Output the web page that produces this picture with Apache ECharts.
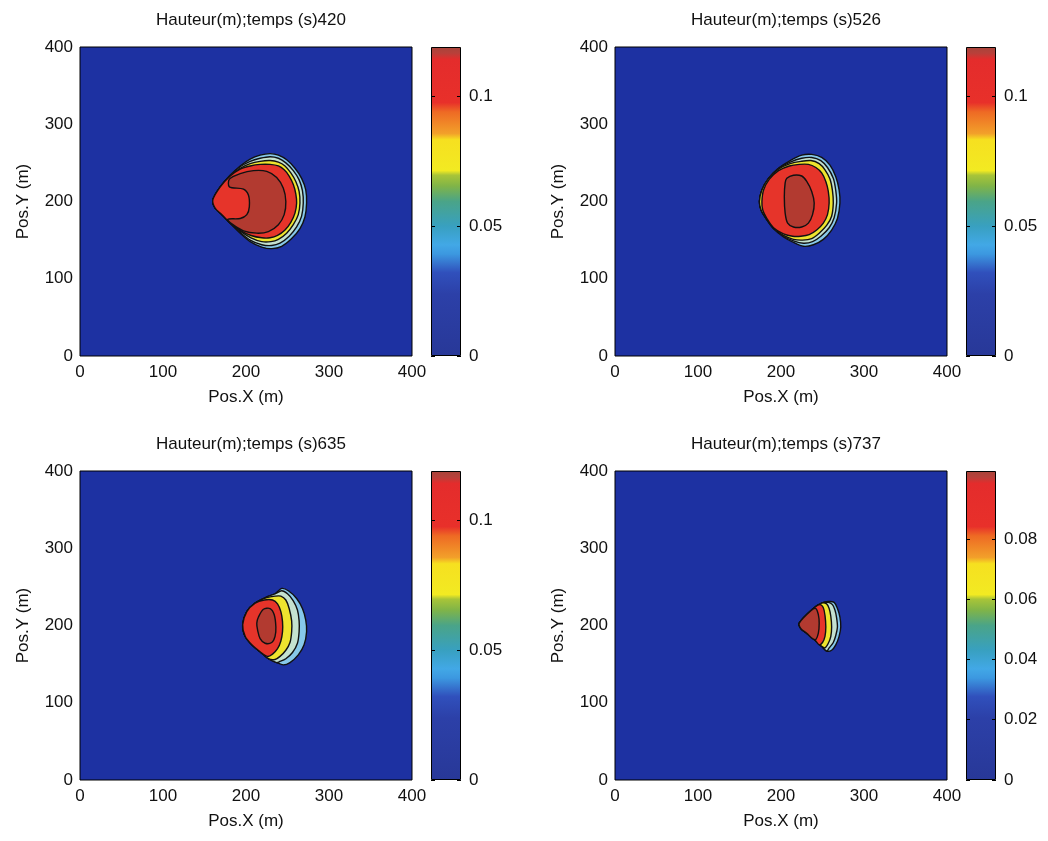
<!DOCTYPE html>
<html>
<head>
<meta charset="utf-8">
<script src="https://cdn.jsdelivr.net/npm/echarts@6/dist/echarts.min.js"></script>
<style>
html,body{margin:0;padding:0;background:#fff;}
#chart{width:1048px;height:841px;}
</style>
</head>
<body>
<div id="chart"></div>
<script>
// ---------- data ----------
const times = [420, 526, 635, 737];
const axisTicks = [0, 100, 200, 300, 400];
const cbMax = [0.119, 0.119, 0.119, 0.1025];
const cbTicksA = [0, 0.05, 0.1];
const cbTicksB = [0, 0.02, 0.04, 0.06, 0.08];
// contour level fill colours (outer -> inner)
const levelColors = ['#86c8ea', '#c4e2d0', '#eee42e', '#e6342a', '#b23a30'];

// contour polygons (data coords, metres)
const p1L1 = [[160,202],[169,219],[181,234],[193,246],[205,255],[217,260],[229,262],[239,260],[249,254],[259,243],[267,230],[272,215],[273,198],[271,180],[265,165],[255,152],[243,142],[231,139],[219,141],[205,148],[193,159],[181,172],[171,183],[163,191]];
const p1L2 = [[160,202],[169,219],[181,234],[193,245],[205,252],[217,256],[229,258],[239,256],[248,250],[257,240],[264,228],[268,214],[269,198],[267,181],[261,167],[252,155],[241,146],[231,143],[219,144],[205,150],[193,160],[181,172],[171,183],[163,191]];
const p1L3 = [[160,202],[169,219],[181,233],[193,243],[205,249],[217,252],[229,253],[239,251],[247,246],[254,237],[260,226],[264,213],[265,198],[263,183],[257,170],[249,159],[239,151],[230,148],[219,148],[206,153],[194,161],[181,172],[171,183],[163,191]];
const p1L4 = [[160,202],[169,219],[181,233],[193,242],[205,246],[217,248],[229,248],[239,246],[246,241],[252,233],[257,222],[260,210],[261,198],[259,185],[254,173],[247,163],[238,156],[229,153],[219,153],[206,156],[194,162],[181,172],[171,183],[163,191]];
const p1L5 = [[180,229],[193,236],[209,240],[225,239],[237,231],[245,217],[248,200],[246,183],[239,170],[227,161],[213,159],[197,162],[183,171],[178,177],[193,178],[201,183],[204,193],[203,208],[197,216],[180,219]];

const p2L1 = [[174,200],[177,215],[185,230],[197,243],[211,253],[225,260],[237,261],[249,257],[259,247],[266,232],[270,215],[271,198],[268,178],[261,163],[251,151],[239,144],[227,142],[215,147],[203,154],[191,165],[182,178],[176,189]];
const p2L2 = [[174,200],[177,215],[185,230],[197,243],[211,251],[225,256],[237,257],[248,253],[256,244],[263,230],[266,214],[267,198],[264,179],[258,166],[248,155],[238,148],[227,146],[215,149],[203,155],[191,165],[182,178],[176,189]];
const p2L3 = [[174,200],[177,215],[185,230],[197,242],[211,249],[224,252],[236,253],[246,249],[253,241],[259,229],[262,214],[263,198],[261,181],[255,169],[246,159],[237,152],[226,150],[215,151],[203,156],[191,165],[182,178],[176,189]];
const p2L4 = [[177,200],[179,215],[186,229],[197,240],[210,246],[222,248],[233,248],[242,244],[249,237],[254,226],[257,213],[258,198],[256,183],[251,172],[243,163],[234,157],[224,155],[214,155],[203,158],[191,166],[183,178],[178,189]];
const p2L5 = [[207,230],[215,234],[225,233],[231,226],[237,213],[240,198],[238,183],[233,172],[225,167],[215,167],[208,172],[205,185],[204,206],[205,224]];

const p3L1 = [[196,201],[201,218],[211,229],[225,237],[235,241],[243,248],[251,245],[261,235],[268,222],[272,207],[273,192],[270,175],[263,162],[253,152],[245,149],[237,152],[227,157],[217,166],[207,175],[199,186]];
const p3L2 = [[196,201],[201,218],[211,229],[225,237],[235,241],[243,245],[250,241],[257,232],[262,220],[264,206],[264,192],[262,177],[256,165],[248,157],[240,153],[237,152],[227,157],[217,166],[207,175],[199,186]];
const p3L3 = [[196,201],[201,218],[211,229],[225,236],[235,238],[242,238],[248,233],[252,222],[255,206],[255,192],[253,178],[248,168],[241,160],[235,156],[227,157],[217,166],[207,175],[199,186]];
const p3L4 = [[196,201],[201,218],[211,229],[222,233],[232,233],[238,228],[242,218],[244,205],[244,192],[242,180],[238,170],[232,163],[226,160],[217,166],[207,175],[199,186]];
const p3L5 = [[215,211],[221,221],[229,222],[234,214],[236,198],[235,186],[231,178],[223,177],[217,183],[214,194],[213,203]];

const p4L1 = [[222,203],[239,222],[249,229],[257,231],[264,230],[268,222],[271,211],[272,198],[270,186],[266,175],[261,168],[255,167],[249,173],[241,181],[231,190],[224,196]];
const p4L2 = [[222,203],[239,222],[249,229],[257,230],[262,227],[265,220],[267,210],[268,198],[266,187],[263,178],[258,171],[255,167],[249,173],[241,181],[231,190],[224,196]];
const p4L3 = [[222,203],[239,222],[249,229],[255,228],[258,222],[260,212],[261,198],[260,186],[257,177],[253,171],[249,173],[241,181],[231,190],[224,196]];
const p4L4 = [[222,203],[239,222],[247,227],[251,223],[253,213],[254,198],[253,186],[250,178],[246,175],[241,181],[231,190],[224,196]];
const p4L5 = [[222,203],[236,219],[242,222],[245,214],[246,203],[245,190],[242,182],[238,183],[231,190],[224,196]];

const plotPolys = [
  [p1L1, p1L2, p1L3, p1L4, p1L5],
  [p2L1, p2L2, p2L3, p2L4, p2L5],
  [p3L1, p3L2, p3L3, p3L4, p3L5],
  [p4L1, p4L2, p4L3, p4L4, p4L5]
];
const cbTicks = [cbTicksA, cbTicksA, cbTicksA, cbTicksB];

// ---------- layout ----------
const FONT = 'Liberation Sans, Arial, Helvetica, sans-serif';
const TXT = '#111';
const plotPos = [
  {left: 80, top: 47}, {left: 615, top: 47},
  {left: 80, top: 471}, {left: 615, top: 471}
];
const PW = 332, PH = 309, CBX = 351, CBW = 30;

const cbStops = [
  [0, '#283898'], [0.2, '#2c40a8'], [0.27, '#3050bc'], [0.33, '#3c98e0'],
  [0.36, '#42a8e6'], [0.42, '#38a0c0'], [0.5, '#4aa488'], [0.55, '#80b448'],
  [0.585, '#a8c438'], [0.6, '#f2ea22'], [0.70, '#f6e020'], [0.72, '#f2a02a'],
  [0.79, '#ee6a24'], [0.82, '#e8302a'], [0.96, '#e42c2c'], [0.98, '#b8403a'], [1, '#a8443a']
];

const grids = [], xAxes = [], yAxes = [], series = [], titles = [];
plotPos.forEach((p, i) => {
  const gMain = grids.length;
  grids.push({left: p.left, top: p.top, width: PW, height: PH, show: true,
    backgroundColor: '#1d31a2', borderColor: '#000', borderWidth: 1, containLabel: false});
  const gCb = grids.length;
  grids.push({left: p.left + CBX, top: p.top, width: CBW, height: PH, containLabel: false});

  // main axes
  xAxes.push({type: 'value', gridIndex: gMain, min: axisTicks[0], max: axisTicks[axisTicks.length - 1],
    interval: 100, axisLine: {show: false}, axisTick: {show: false}, splitLine: {show: false},
    axisLabel: {color: TXT, fontSize: 17, fontFamily: FONT, margin: 8},
    name: 'Pos.X (m)', nameLocation: 'middle', nameGap: 33,
    nameTextStyle: {color: TXT, fontSize: 17, fontFamily: FONT}});
  const xMain = xAxes.length - 1;
  yAxes.push({type: 'value', gridIndex: gMain, min: axisTicks[0], max: axisTicks[axisTicks.length - 1],
    interval: 100, axisLine: {show: false}, axisTick: {show: false}, splitLine: {show: false},
    axisLabel: {color: TXT, fontSize: 17, fontFamily: FONT, margin: 7},
    name: 'Pos.Y (m)', nameLocation: 'middle', nameGap: 48,
    nameTextStyle: {color: TXT, fontSize: 17, fontFamily: FONT}});
  const yMain = yAxes.length - 1;

  // colorbar axes
  xAxes.push({type: 'category', gridIndex: gCb, data: ['c'], show: false});
  const xCb = xAxes.length - 1;
  const ticks = cbTicks[i];
  yAxes.push({type: 'value', gridIndex: gCb, min: 0, max: cbMax[i], position: 'right', z: 10,
    axisLine: {show: false}, splitLine: {show: false},
    axisTick: {show: true, inside: true, length: 4, customValues: ticks, lineStyle: {color: '#000', width: 1}},
    axisLabel: {customValues: ticks, color: TXT, fontSize: 17, fontFamily: FONT, margin: 8,
      formatter: v => String(+v.toFixed(3))}});
  const yCb = yAxes.length - 1;
  yAxes.push({type: 'value', gridIndex: gCb, min: 0, max: cbMax[i], position: 'left', z: 10,
    axisLine: {show: false}, splitLine: {show: false}, axisLabel: {show: false},
    axisTick: {show: true, inside: true, length: 4, customValues: ticks, lineStyle: {color: '#000', width: 1}}});

  const polys = plotPolys[i];
  series.push({
    type: 'custom', xAxisIndex: xMain, yAxisIndex: yMain, silent: true, animation: false,
    data: polys.map((_, k) => [k]),
    renderItem: (params, api) => {
      const pts = polys[params.dataIndex].map(q => api.coord(q));
      return {type: 'polygon', shape: {points: pts, smooth: 0.3},
        style: {fill: levelColors[params.dataIndex], stroke: '#111', lineWidth: 1.4}};
    }
  });
  series.push({
    type: 'bar', xAxisIndex: xCb, yAxisIndex: yCb, silent: true, animation: false,
    barWidth: '100%', data: [cbMax[i]],
    itemStyle: {borderColor: '#000', borderWidth: 1,
      color: new echarts.graphic.LinearGradient(0, 1, 0, 0, cbStops.map(s => ({offset: s[0], color: s[1]})))}
  });

  titles.push({text: 'Hauteur(m);temps (s)' + times[i], left: p.left + PW / 2, top: p.top - 40,
    textAlign: 'center',
    textStyle: {color: TXT, fontSize: 17, fontWeight: 'normal', fontFamily: FONT}});
});

const chart = echarts.init(document.getElementById('chart'), null, {renderer: 'canvas'});
chart.setOption({
  animation: false,
  backgroundColor: '#ffffff',
  title: titles,
  grid: grids,
  xAxis: xAxes,
  yAxis: yAxes,
  series: series
});
</script>
</body>
</html>
